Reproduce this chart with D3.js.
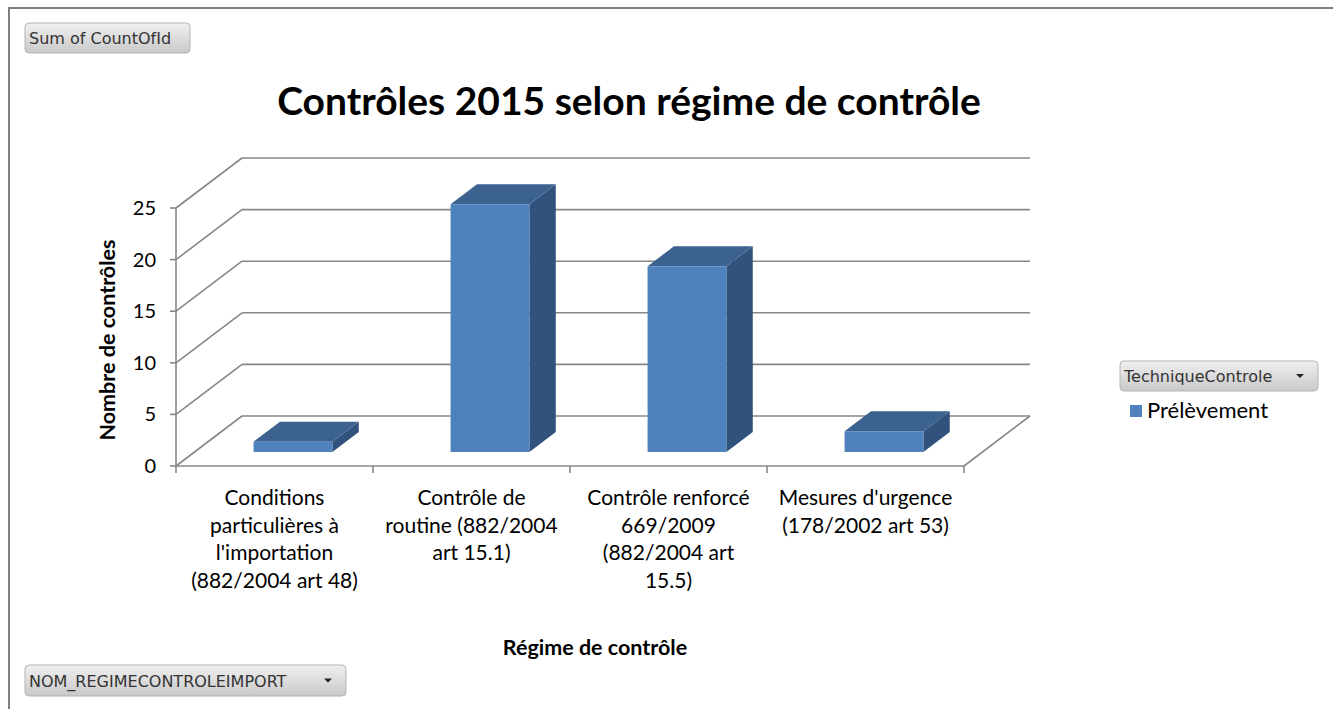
<!DOCTYPE html>
<html><head><meta charset="utf-8">
<script src="https://cdn.jsdelivr.net/npm/d3@7"></script>
<style>
html,body{margin:0;padding:0;background:#fff;}
svg{display:block;}
</style></head>
<body>
<svg id="c" width="1333" height="709"></svg>
<script>
const categories = [
  ["Conditions","particulières à","l'importation","(882/2004 art 48)"],
  ["Contrôle de","routine (882/2004","art 15.1)"],
  ["Contrôle renforcé","669/2009","(882/2004 art","15.5)"],
  ["Mesures d'urgence","(178/2002 art 53)"]
];
const categoryKeys = ["c1","c2","c3","c4"];
const values = [1, 24, 18, 2];
const yTicks = [0, 5, 10, 15, 20, 25];
const seriesName = "Prélèvement";
const title = "Contrôles 2015 selon régime de contrôle";
const yTitle = "Nombre de contrôles";
const xTitle = "Régime de contrôle";

const svg = d3.select("#c");
const FONT = "Lato, 'Open Sans', sans-serif";
const BTNFONT = "'DejaVu Sans', sans-serif";

// 3D projection
const DX = 66, DY = 50;
const P = (x, y, d) => [x + d*DX, y - d*DY];

const x0 = 176, x1 = 964;
const xCat = d3.scaleBand().domain(categoryKeys).range([x0, x1]);
const xBar = d3.scaleBand().domain(categoryKeys).range([x0, x1]).paddingInner(0.6).paddingOuter(0.3);
const y = d3.scaleLinear().domain([0, 25]).range([466, 208]);

// frame
svg.append("path").attr("d", "M9,709 L9,8 L1333,8").attr("fill","none").attr("stroke","#7f7f7f").attr("stroke-width",2);

// defs for button gradient
const defs = svg.append("defs");
const g = defs.append("linearGradient").attr("id","btn").attr("x1",0).attr("y1",0).attr("x2",0).attr("y2",1);
g.append("stop").attr("offset","0%").attr("stop-color","#f0f0f0");
g.append("stop").attr("offset","100%").attr("stop-color","#c9c9c9");

function button(x, yy, w, h, text, arrow){
  const b = svg.append("g");
  b.append("rect").attr("x",x).attr("y",yy).attr("width",w).attr("height",h).attr("rx",4)
    .attr("fill","url(#btn)").attr("stroke","#b5b5b5");
  b.append("text").attr("x",x+4).attr("y",yy+h/2+6).attr("font-family",BTNFONT).attr("font-size",16)
    .attr("fill","#333").text(text);
  if(arrow){
    const ax = x+w-18, ay = yy+h/2-2;
    b.append("path").attr("d",`M${ax-4},${ay} L${ax+4},${ay} L${ax},${ay+4}Z`).attr("fill","#222");
  }
}
button(25, 23, 165, 30, "Sum of CountOfId", false);
button(1120, 361, 198, 30, "TechniqueControle", true);
button(25, 665, 321, 31, "NOM_REGIMECONTROLEIMPORT", true);

// title
svg.append("text").attr("x", 629).attr("y", 115).attr("text-anchor","middle")
  .attr("font-family",FONT).attr("font-weight","bold").attr("font-size",39).attr("fill","#000").text(title);

const grid = svg.append("g").attr("stroke","#878787").attr("stroke-width",1.6).attr("fill","none");
// back gridlines and left wall diagonals
yTicks.forEach(v => {
  const f = [x0, y(v)];
  const b = P(x0, y(v), 1);
  const br = P(x1, y(v), 1);
  grid.append("line").attr("x1",f[0]).attr("y1",f[1]).attr("x2",b[0]).attr("y2",b[1]);
  grid.append("line").attr("x1",b[0]).attr("y1",b[1]).attr("x2",br[0]).attr("y2",br[1]);
});
// floor front edge and right diagonal
{
  const a = P(x1, y(0), 0), b = P(x1, y(0), 1);
  grid.append("line").attr("x1",x0).attr("y1",y(0)).attr("x2",x1).attr("y2",y(0));
  grid.append("line").attr("x1",a[0]).attr("y1",a[1]).attr("x2",b[0]).attr("y2",b[1]);
  // y axis line
  grid.append("line").attr("x1",x0).attr("y1",y(0)).attr("x2",x0).attr("y2",y(25));
  // y ticks
  yTicks.forEach(v => grid.append("line").attr("x1",x0-6).attr("y1",y(v)).attr("x2",x0).attr("y2",y(v)));
  // x ticks
  const edges = categoryKeys.map(k => xCat(k)).concat([x1]);
  edges.forEach(e => grid.append("line").attr("x1",e).attr("y1",y(0)).attr("x2",e).attr("y2",y(0)+7));
}

// y tick labels
svg.append("g").selectAll("text").data(yTicks).join("text")
  .attr("x", 156).attr("y", d => y(d)+7).attr("text-anchor","end")
  .attr("font-family",FONT).attr("font-size",20).attr("fill","#000").text(d => d);

// bars
const D0 = 0.28, D1 = 0.68;
const bars = svg.append("g");
categoryKeys.forEach((k, i) => {
  const xl = xBar(k), xr = xl + xBar.bandwidth();
  const yb = y(0), yt = y(values[i]);
  const fl = P(xl, yt, D0), fr = P(xr, yt, D0), flb = P(xl, yb, D0), frb = P(xr, yb, D0);
  const bl = P(xl, yt, D1), br = P(xr, yt, D1), brb = P(xr, yb, D1);
  bars.append("path").attr("d", `M${fr}L${br}L${brb}L${frb}Z`).attr("fill","#31527c");
  bars.append("path").attr("d", `M${fl}L${bl}L${br}L${fr}Z`).attr("fill","#3c628f");
  bars.append("path").attr("d", `M${fl}L${fr}L${frb}L${flb}Z`).attr("fill","#4f81bd");
});

// category labels
const cl = svg.append("g");
categoryKeys.forEach((k, i) => {
  const cx = xCat(k) + xCat.bandwidth()/2;
  cl.append("text").attr("x",cx).attr("y",505).attr("text-anchor","middle")
    .attr("font-family",FONT).attr("font-size",21).attr("fill","#000")
    .selectAll("tspan").data(categories[i]).join("tspan")
    .attr("x",cx).attr("dy",(d,j)=> j===0?0:27.5).text(d=>d);
});

// axis titles
svg.append("text").attr("x",595).attr("y",655).attr("text-anchor","middle")
  .attr("font-family",FONT).attr("font-weight","bold").attr("font-size",21.5).text(xTitle);
svg.append("text").attr("transform","translate(115,340) rotate(-90)").attr("text-anchor","middle")
  .attr("font-family",FONT).attr("font-weight","bold").attr("font-size",21.5).text(yTitle);

// legend
svg.append("rect").attr("x",1130).attr("y",405).attr("width",12).attr("height",12).attr("fill","#4f81bd");
svg.append("text").attr("x",1147).attr("y",418).attr("font-family",FONT).attr("font-size",22).text(seriesName);
</script>
</body></html>
